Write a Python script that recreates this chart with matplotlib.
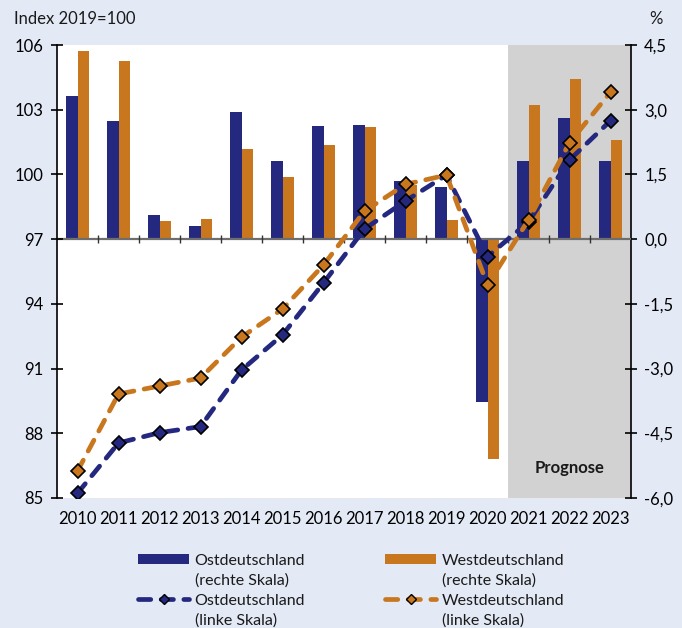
import matplotlib
matplotlib.use("Agg")
import matplotlib.pyplot as plt
from matplotlib.patches import Patch
from matplotlib.lines import Line2D

plt.rcParams["font.family"] = ["Lato", "DejaVu Sans"]
plt.rcParams["font.size"] = 11.5
plt.rcParams["text.color"] = "#1a1a1a"

# data
years = list(range(2010, 2024))
ost_growth = [3.31, 2.74, 0.56, 0.30, 2.94, 1.81, 2.62, 2.64, 1.35, 1.21, -3.78, 1.80, 2.80, 1.80]
west_growth = [4.36, 4.13, 0.42, 0.46, 2.09, 1.44, 2.18, 2.60, 1.25, 0.44, -5.10, 3.12, 3.72, 2.30]
ost_index = [85.22, 87.55, 88.03, 88.31, 90.93, 92.56, 94.97, 97.47, 98.77, 99.97, 96.19, 97.80, 100.67, 102.49]
west_index = [86.25, 89.82, 90.19, 90.56, 92.46, 93.76, 95.80, 98.30, 99.54, 99.97, 94.87, 97.89, 101.47, 103.81]
forecast_start = 2021

navy = "#24297f"
orange = "#c8771e"
bg = "#e3eaf6"
shade = "#d2d2d2"

fig = plt.figure(figsize=(6.82, 6.28), dpi=100, facecolor=bg)
ax2 = fig.add_axes([57 / 682, 1 - 498 / 628, (631 - 57) / 682, (498 - 45) / 628])
ax2.set_facecolor("white")
ax = ax2.twinx()
ax.set_zorder(ax2.get_zorder() + 1)
ax.patch.set_visible(False)

# bars on the right scale
w = 0.285
ax2.axvspan(forecast_start - 0.5, years[-1] + 0.5, color=shade, zorder=0, lw=0)
ax2.bar([y - w / 2 for y in years], ost_growth, width=w, color=navy, zorder=2)
ax2.bar([y + w / 2 for y in years], west_growth, width=w, color=orange, zorder=2)
ax2.axhline(0, color="#6e6e6e", lw=1.6, zorder=3)
ax2.vlines([y + 0.5 for y in years[:-1]], -0.09, 0.09, color="#333333", lw=1.0, zorder=3)
ax2.text((forecast_start - 0.5 + years[-1] + 0.5) / 2, -5.3, "Prognose",
         ha="center", va="center", fontweight="bold", fontsize=12)

# lines on the left scale
dash = (2.6, 2.2)
ax.plot(years, ost_index, color=navy, lw=3.4, dashes=dash, dash_capstyle="round",
        marker="D", ms=7.5, mfc=navy, mec="black", mew=1.2, zorder=4)
ax.plot(years, west_index, color=orange, lw=3.4, dashes=dash, dash_capstyle="round",
        marker="D", ms=7.5, mfc=orange, mec="black", mew=1.2, zorder=5)

# index scale on the left, percent scale on the right
ax.yaxis.tick_left()
ax.yaxis.set_label_position("left")
ax2.yaxis.tick_right()

ax.set_ylim(85, 106)
ax.set_yticks(range(85, 107, 3))
ax2.set_ylim(-6, 4.5)
ax2.set_yticks([-6, -4.5, -3, -1.5, 0, 1.5, 3, 4.5])
ax2.set_yticklabels([f"{v:.1f}".replace(".", ",") for v in [-6, -4.5, -3, -1.5, 0, 1.5, 3, 4.5]])
ax2.set_xlim(years[0] - 0.5, years[-1] + 0.5)
ax2.set_xticks(years)
ax2.set_xticklabels([str(y) for y in years])

for a in (ax, ax2):
    for s in ("top", "bottom"):
        a.spines[s].set_visible(False)
ax.spines["right"].set_visible(False)
ax2.spines["left"].set_visible(False)
ax.spines["left"].set_linewidth(1.2)
ax2.spines["right"].set_linewidth(1.2)
ax.tick_params(axis="y", direction="inout", length=9, width=1.2, pad=5, labelsize=12)
ax2.tick_params(axis="y", direction="inout", length=9, width=1.2, pad=5, labelsize=12)
ax2.tick_params(axis="x", length=0, pad=9, labelsize=12)

fig.text(14 / 682, 1 - 19 / 628, "Index 2019=100", ha="left", va="center", fontsize=12)
fig.text(656 / 682, 1 - 19 / 628, "%", ha="center", va="center", fontsize=12)

# legend: handle next to the first line of each two-line label
blank = Patch(facecolor="none", edgecolor="none")
handles = [
    Patch(facecolor=navy), blank,
    Line2D([], [], color=navy, lw=3.4, dashes=dash, dash_capstyle="round",
           marker="D", ms=5, mfc=navy, mec="black", mew=1), blank,
    Patch(facecolor=orange), blank,
    Line2D([], [], color=orange, lw=3.4, dashes=dash, dash_capstyle="round",
           marker="D", ms=5, mfc=orange, mec="black", mew=1), blank,
]
labels = ["Ostdeutschland", "(rechte Skala)", "Ostdeutschland", "(linke Skala)",
          "Westdeutschland", "(rechte Skala)", "Westdeutschland", "(linke Skala)"]
fig.legend(handles, labels, ncol=2, loc="upper left", bbox_to_anchor=(138 / 682, 1 - 554 / 628),
           frameon=False, fontsize=11.5, handlelength=3.2, handleheight=0.6, handletextpad=0.35,
           columnspacing=5.0, labelspacing=0.36, borderaxespad=0, borderpad=0, numpoints=1)

fig.savefig("out.png", dpi=100, facecolor=bg)
